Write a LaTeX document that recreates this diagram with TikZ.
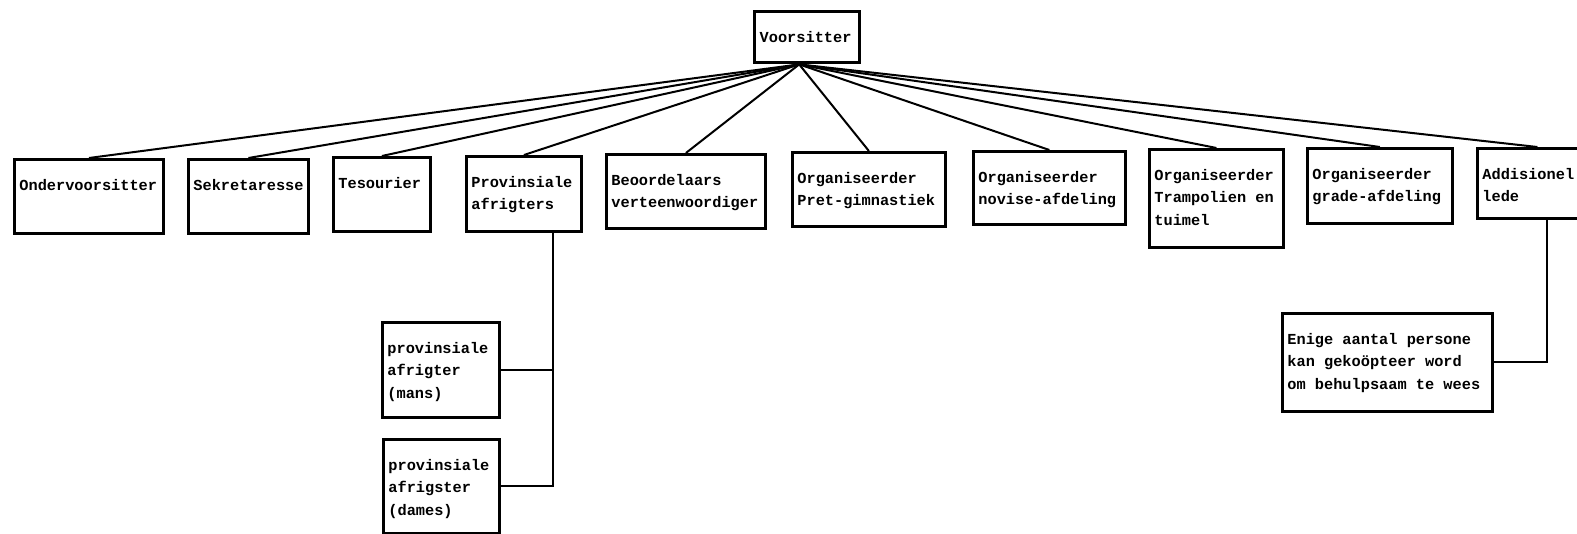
\documentclass[tikz,border=0pt]{standalone}
\usepackage{fontspec}
\newfontfamily\dotfont{Liberation Mono}
\usetikzlibrary{positioning, calc}
\tikzset{
    orgbox/.style={
        draw, line width=2.8pt, inner sep=0pt, anchor=north west,
        font=\dotfont\bfseries\fontsize{15.3}{22.5}\selectfont
    },
    link/.style={
        line width=2pt, black
    }
}
\newcommand{\boxtext}[3]{\parbox[t][#2][t]{#1}{\raggedright\leftskip=5pt\rule{0pt}{31pt}#3}}

\begin{document}
\begin{tikzpicture}[x=1pt, y=-1pt]
    \useasboundingbox (0,0) rectangle (1577,533);

    % --- HOOF ---
    \node[orgbox, line width=3.4pt] (voorsitter) at (753,10) {\boxtext{105pt}{51pt}{Voorsitter}};
    \coordinate (hub) at ([xshift=-8pt]voorsitter.south);

    % --- KOMITEE RY ---
    \node[orgbox] (ondervoorsitter) at (13,158) {\boxtext{149pt}{74pt}{Ondervoorsitter}};
    \node[orgbox] (sekretaresse) at (187,158) {\boxtext{120pt}{74pt}{Sekretaresse}};
    \node[orgbox] (tesourier) at (332,156) {\boxtext{97pt}{74pt}{Tesourier}};
    \node[orgbox] (provinsiale) at (465,155) {\boxtext{115pt}{75pt}{Provinsiale\\afrigters}};
    \node[orgbox] (beoordelaars) at (605,153) {\boxtext{159pt}{74pt}{Beoordelaars\\verteenwoordiger}};
    \node[orgbox] (pret) at (791,151) {\boxtext{153pt}{74pt}{Organiseerder\\Pret-gimnastiek}};
    \node[orgbox] (novise) at (972,150) {\boxtext{152pt}{73pt}{Organiseerder\\novise-afdeling}};
    \node[orgbox] (trampolien) at (1148,148) {\boxtext{134pt}{98pt}{Organiseerder\\Trampolien en\\tuimel}};
    \node[orgbox] (grade) at (1306,147) {\boxtext{145pt}{75pt}{Organiseerder\\grade-afdeling}};
    \node[orgbox] (addisionel) at (1476,147) {\boxtext{120pt}{70pt}{Addisionel\\lede}};

    % --- ONDER-VLAKKE ---
    \node[orgbox] (mans) at (381,321) {\boxtext{117pt}{95pt}{provinsiale\\afrigter\\(mans)}};
    \node[orgbox] (dames) at (382,438) {\boxtext{116pt}{94pt}{provinsiale\\afrigster\\(dames)}};
    \node[orgbox] (enige) at (1281,312) {\boxtext{210pt}{98pt}{Enige aantal persone\\kan gekoöpteer word\\om behulpsaam te wees}};

    % --- VERBINDINGS ---
    \draw[link] (hub) -- (ondervoorsitter.north);
    \draw[link] (hub) -- (sekretaresse.north);
    \draw[link] (hub) -- (tesourier.north);
    \draw[link] (hub) -- (provinsiale.north);
    \draw[link] (hub) -- (beoordelaars.north);
    \draw[link] (hub) -- (pret.north);
    \draw[link] (hub) -- (novise.north);
    \draw[link] (hub) -- (trampolien.north);
    \draw[link] (hub) -- (grade.north);
    \draw[link] (hub) -- (addisionel.north);

    \draw[link] ([xshift=29pt]provinsiale.south) |- (mans.east);
    \draw[link] ([xshift=29pt]provinsiale.south) |- (dames.east);
    \draw[link] ([xshift=10pt]addisionel.south) |- (enige.east);
\end{tikzpicture}
\end{document}
